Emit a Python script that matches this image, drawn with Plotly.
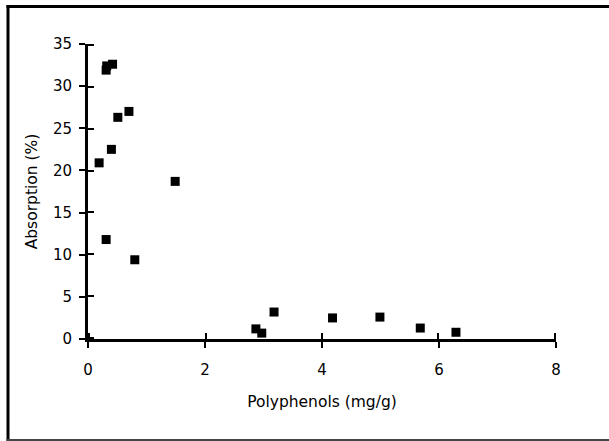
import plotly.graph_objects as go

polyphenols = [0.32, 0.42, 0.31, 0.70, 0.51, 0.40, 0.19, 1.49, 0.31, 0.80, 2.87, 2.97, 3.18, 4.18, 4.99, 5.68, 6.29]
absorption = [32.4, 32.6, 31.9, 27.0, 26.3, 22.5, 20.9, 18.7, 11.8, 9.4, 1.2, 0.7, 3.2, 2.5, 2.6, 1.3, 0.8]

x_ticks = [0, 2, 4, 6, 8]
y_ticks = [0, 5, 10, 15, 20, 25, 30, 35]

FONT = "DejaVu Sans"

# overlay axes are padded by ~1.3 px so inside ticks at the ends are not clipped
x_pad = 8 / 468.0 * 1.3
y_pad = 35 / 295.0 * 1.3

fig = go.Figure()
fig.add_trace(go.Scatter(
    x=polyphenols, y=absorption, mode="markers", xaxis="x2", yaxis="y2",
    marker=dict(symbol="square", size=9, color="rgba(0,0,0,0)"),
    showlegend=False, hoverinfo="skip",
))
fig.add_trace(go.Scatter(
    x=polyphenols, y=absorption, mode="markers",
    marker=dict(symbol="square", size=9, color="black"),
    showlegend=False, cliponaxis=False,
))

axis_common = dict(showgrid=False, zeroline=False, showline=True, linecolor="black",
                   linewidth=3, ticks="outside", ticklen=6, tickwidth=2, tickcolor="black",
                   tickfont=dict(family=FONT, size=15, color="black"))

fig.update_layout(
    width=609, height=441,
    margin=dict(l=88, r=53, t=44, b=102),
    paper_bgcolor="white", plot_bgcolor="white",
    font=dict(family=FONT, size=15, color="black"),
    xaxis=dict(range=[0, 8], tickvals=x_ticks, ticklabelstandoff=9,
               title=dict(text="Polyphenols (mg/g)", standoff=19, font=dict(family=FONT, size=15.5)),
               **axis_common),
    yaxis=dict(range=[0, 35], tickvals=y_ticks, ticklabelstandoff=4,
               title=dict(text="Absorption (%)", standoff=12, font=dict(family=FONT, size=15.5)),
               **axis_common),
    xaxis2=dict(range=[-x_pad, 8 + x_pad], tickvals=x_ticks, overlaying="x", anchor="y2", side="bottom",
                showgrid=False, zeroline=False, showline=False, ticks="inside", ticklen=6,
                tickwidth=2, tickcolor="black", showticklabels=False),
    yaxis2=dict(range=[-y_pad, 35 + y_pad], tickvals=y_ticks, overlaying="y", anchor="x2", side="left",
                showgrid=False, zeroline=False, showline=False, ticks="inside", ticklen=6,
                tickwidth=2, tickcolor="black", showticklabels=False),
)

W, H = 468.0, 295.0
def px_x(p):
    return (p - 88) / W
def px_y(p):
    return (339 - p) / H
fig.add_shape(type="line", xref="paper", yref="paper", x0=px_x(8), x1=px_x(8), y0=px_y(5), y1=px_y(441),
              line=dict(color="black", width=3))
fig.add_shape(type="line", xref="paper", yref="paper", x0=px_x(6.5), x1=px_x(620), y0=px_y(6.5), y1=px_y(6.5),
              line=dict(color="black", width=3))
fig.add_shape(type="line", xref="paper", yref="paper", x0=px_x(6.5), x1=px_x(620), y0=px_y(440), y1=px_y(440),
              line=dict(color="#444444", width=2))

fig.write_html("out.html")
